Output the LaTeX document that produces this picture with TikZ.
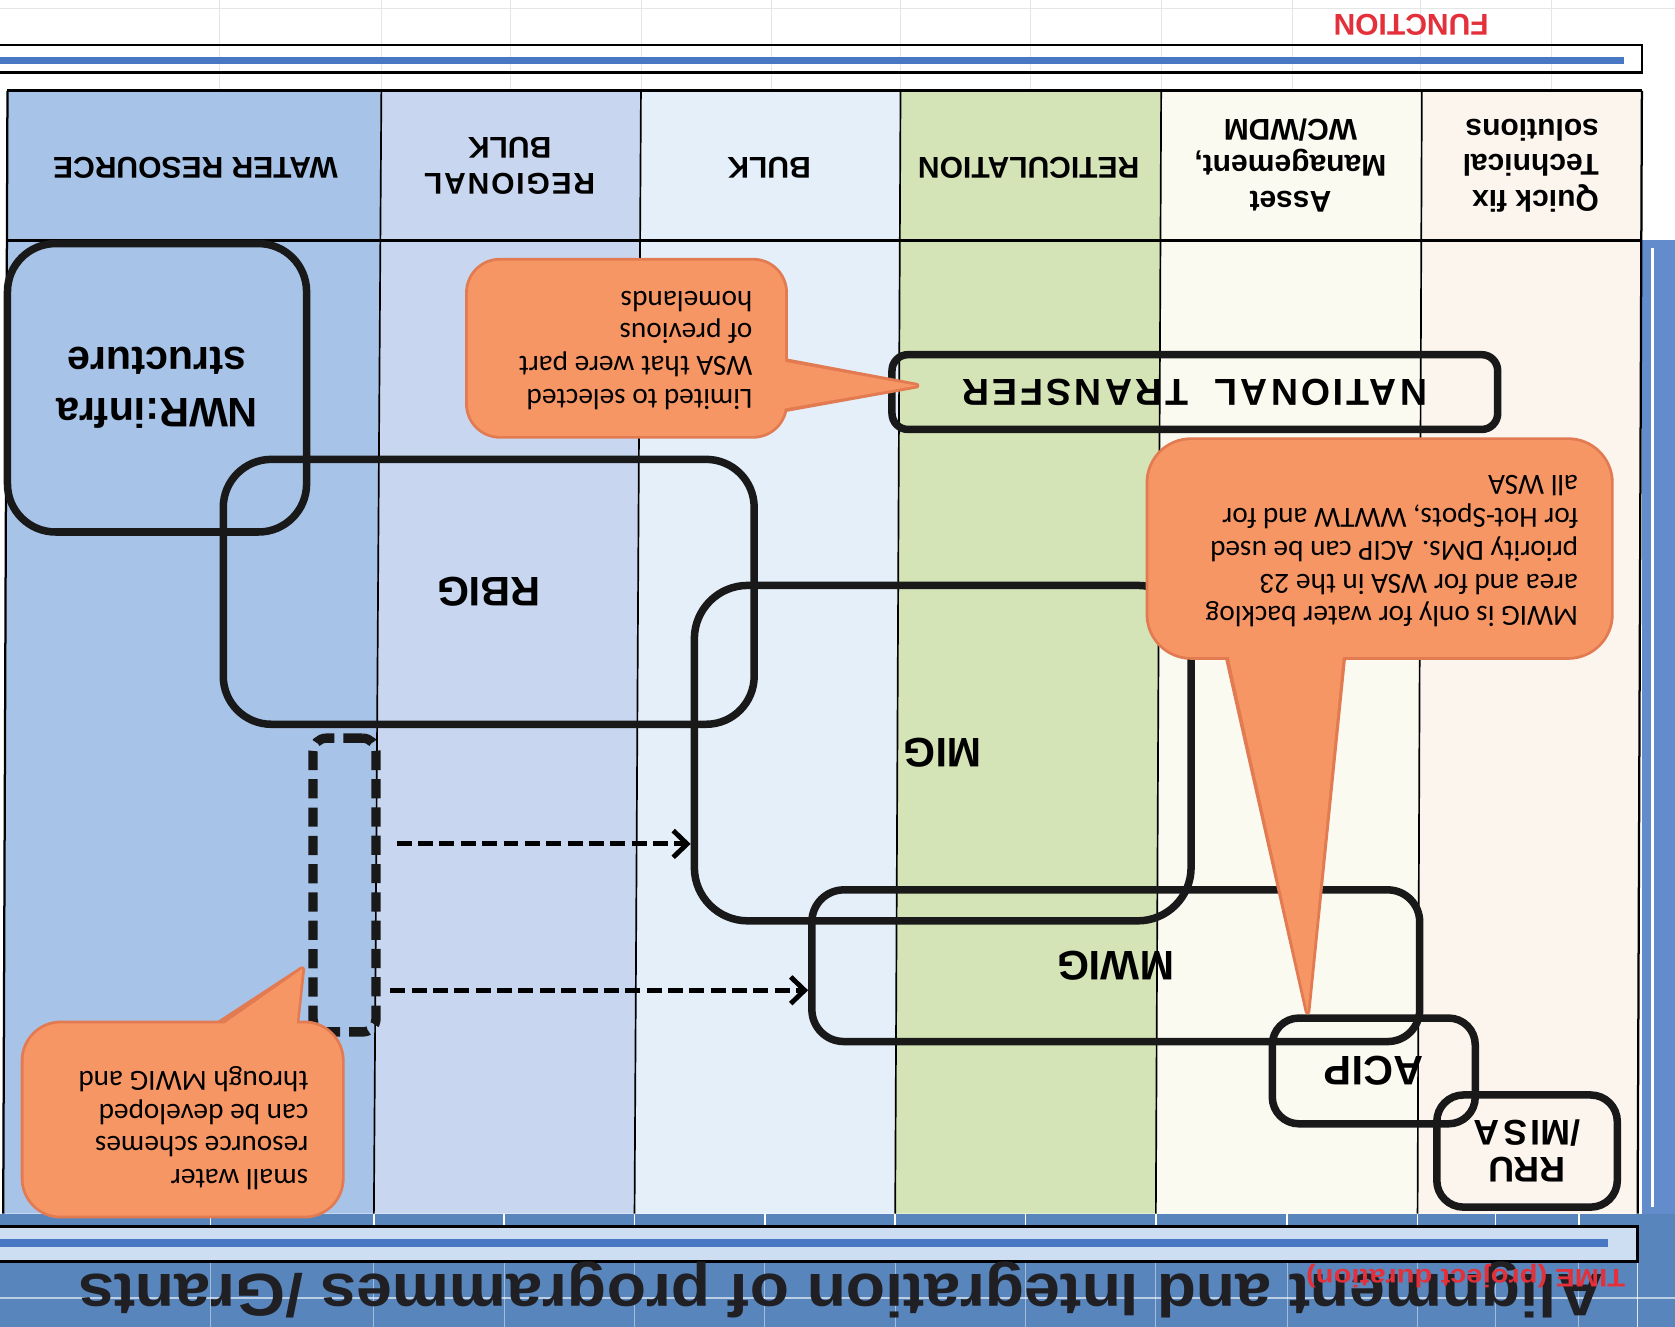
\documentclass[tikz,border=0pt]{standalone}
\usepackage{fontspec}
\setmainfont{Liberation Sans}
\newfontfamily\notefamily{Carlito}
\newfontfamily\widefamily[LetterSpace=8]{Liberation Sans}
\usetikzlibrary{arrows.meta,fit}

\definecolor{wrblue}{RGB}{168,195,232}
\definecolor{rbblue}{RGB}{201,214,240}
\definecolor{bkblue}{RGB}{229,239,250}
\definecolor{retgreen}{RGB}{213,228,182}
\definecolor{amcream}{RGB}{251,250,241}
\definecolor{qfcream}{RGB}{252,245,238}
\definecolor{barblue}{RGB}{72,120,196}
\definecolor{barpale}{RGB}{205,222,242}
\definecolor{seablue}{RGB}{88,134,188}
\definecolor{notefill}{RGB}{247,150,101}
\definecolor{noteedge}{RGB}{226,122,82}
\definecolor{labelred}{RGB}{228,48,58}
\definecolor{titlegray}{RGB}{32,32,36}

\tikzset{
  prog/.style={draw=black!90, line width=4pt, inner sep=0pt},
  lbl/.style={rotate=180, align=center, font=\bfseries\fontsize{22}{27}\selectfont},
  hdr/.style={rotate=180, align=center, font=\bfseries\fontsize{16}{19}\selectfont},
  note/.style={rotate=180, align=left, font=\notefamily\fontsize{15.6}{17.5}\selectfont},
  noterim/.style={draw=noteedge, line width=3pt, line join=round},
  notebody/.style={fill=notefill},
  dashlink/.style={line width=2.6pt, dash pattern=on 0.28cm off 0.12cm,
    -{Straight Barb[length=0.26cm,width=0.5cm,line width=2.6pt]}},
}

\begin{document}
\begin{tikzpicture}[x=0.02cm,y=-0.02cm]
\useasboundingbox (0,0) rectangle (1568,1242);
\clip (0,0) rectangle (1568,1242);
\fill[white] (0,0) rectangle (1568,1242);

% faint slide grid above the bar
\foreach \gx in {205,357,478,600,722,843,965,1087,1210,1330,1452}
  \draw[black!10, line width=0.4pt] (\gx,0) -- (\gx,85);
\draw[black!10, line width=0.4pt] (0,8) -- (1568,8);

% function bar
\fill[barblue] (0,53) rectangle (1520,60);
\draw[line width=1.4pt] (0,42) -- (1537,42) -- (1537,68) -- (0,68);
\node[rotate=180, text=labelred, font=\bfseries\fontsize{16}{16}\selectfont] (function) at (1321,23) {FUNCTION};

% columns
\fill[wrblue] (7,85) -- (357,85) -- (350,1136) -- (3,1136) -- cycle;
\fill[rbblue] (357,85) -- (600,85) -- (594,1136) -- (350,1136) -- cycle;
\fill[bkblue] (600,85) -- (843,85) -- (838,1136) -- (594,1136) -- cycle;
\fill[retgreen] (843,85) -- (1087,85) -- (1082,1136) -- (838,1136) -- cycle;
\fill[amcream] (1087,85) -- (1331,85) -- (1327,1136) -- (1082,1136) -- cycle;
\fill[qfcream] (1331,85) -- (1537,85) -- (1533,1136) -- (1327,1136) -- cycle;

% time axis at the bottom
\fill[seablue] (0,1136) rectangle (1568,1242);
\fill[barblue!85] (1537,225) rectangle (1568,1136);
\draw[white, line width=1.2pt] (1547,232) -- (1547,1130);
\foreach \gx in {197,350,472,594,716,838,960,1082,1205,1327,1400,1478} {
  \draw[white, line width=0.8pt] (\gx,1136) -- (\gx,1148);
  \draw[white, opacity=0.45, line width=0.6pt] (\gx,1181) -- (\gx,1242);
}
\draw[white, opacity=0.6, line width=0.8pt] (0,1215) -- (1568,1215);
\draw[white, opacity=0.8, line width=0.8pt] (1533,1181) -- (1533,1242);
\fill[barpale] (0,1148) rectangle (1533,1181);
\fill[barblue] (0,1160) rectangle (1505,1167);
\draw[line width=1.4pt] (0,1148) -- (1533,1148) -- (1533,1181) -- (0,1181);

% table frame
\draw[line width=1.6pt] (7,85) -- (1537,85);
\draw[line width=1.6pt] (7,225) -- (1537,225);
\draw[line width=1.2pt] (7,85) -- (3,1136);
\draw[line width=0.9pt] (357,85) -- (350,1136);
\draw[line width=0.9pt] (600,85) -- (594,1136);
\draw[line width=0.9pt] (843,85) -- (838,1136);
\draw[line width=0.9pt] (1087,85) -- (1082,1136);
\draw[line width=0.9pt] (1331,85) -- (1327,1136);
\draw[line width=1.2pt] (1537,85) -- (1533,1136);

% headers
\node[hdr] (hwater) at (183,157) {WATER RESOURCE};
\node[hdr] (hregional) at (477,155) {{\addfontfeature{LetterSpace=6}REGIONAL}\\BULK};
\node[hdr] (hbulk) at (720,157) {BULK};
\node[hdr] (hretic) at (963,157) {RETICULATION};
\node[hdr] (hasset) at (1208,155) {Asset\\Management,\\WC/WDM};
\node[hdr, align=left] (hquick) at (1433,155) {Quick fix\\Technical\\solutions};

% programmes
\node[prog, rounded corners=0.9cm, fit={(7,228) (287,498)}] (nwr) {};
\node[prog, rounded corners=0.9cm, fit={(209,430) (706,678)}] (rbig) {};
\node[prog, rounded corners=1.0cm, fit={(650,548) (1115,862)}] (mig) {};
\node[prog, rounded corners=0.6cm, fit={(760,833) (1329,975)}] (mwig) {};
\node[prog, rounded corners=0.5cm, fit={(1191,953) (1381,1052)}] (acip) {};
\node[prog, rounded corners=0.5cm, fit={(1345,1025) (1514,1130)}] (rru) {};
\node[prog, rounded corners=0.3cm, fit={(835,332) (1402,402)}] (ntransfer) {};
\node[draw=black!90, line width=5pt, inner sep=0pt, dash pattern=on 0.36cm off 0.17cm,
  rounded corners=0.25cm, fit={(293,691) (352,966)}] (swr) {};

\coordinate (upperlink) at (0,790);
\coordinate (lowerlink) at (0,927);
\draw[dashlink, shorten <=0.3cm] (swr.east |- upperlink) -- (mig.west |- upperlink);
\draw[dashlink, shorten <=0.18cm] (swr.east |- lowerlink) -- (mwig.west |- lowerlink);

% callouts
\draw[noterim, rounded corners=0.6cm] (438,244) rectangle (735,408);
\draw[noterim] (730,337) -- (858,361) -- (730,384);
\fill[notebody, rounded corners=0.6cm] (438,244) rectangle (735,408);
\fill[notebody] (725,337) -- (858,361) -- (725,384) -- cycle;

\draw[noterim, rounded corners=0.8cm] (1075,412) rectangle (1508,615);
\draw[noterim] (1148,610) -- (1224,947) -- (1258,610);
\fill[notebody, rounded corners=0.8cm] (1075,412) rectangle (1508,615);
\fill[notebody] (1148,605) -- (1224,947) -- (1258,605) -- cycle;

\draw[noterim, rounded corners=0.7cm] (22,958) rectangle (320,1138);
\draw[noterim] (199,962) -- (283,907) -- (277,962);
\fill[notebody, rounded corners=0.7cm] (22,958) rectangle (320,1138);
\fill[notebody] (199,966) -- (283,907) -- (277,966) -- cycle;

\node[note] (homelandnote) at (595,328) {Limited to selected\\WSA that were part\\of previous\\homelands};
\node[note] (mwignote) at (1303,516) {MWIG is only for water backlog\\area and for WSA in the 23\\priority DMs. ACIP can be used\\for Hot-Spots, WWTW and for\\all WSA};
\node[note] (schemenote) at (181,1056) {small water\\resource schemes\\can be developed\\through MWIG and};

% programme labels
\node[lbl] (nwrlbl) at (nwr.center) {NWR:infra\\structure};
\node[lbl] (rbiglbl) at (rbig.center) {RBIG};
\node[lbl] (miglbl) at (mig.center) {MIG};
\node[lbl] (mwiglbl) at (mwig.center) {MWIG};
\node[lbl] (aciplbl) at (acip.center) {ACIP};
\node[lbl, font=\bfseries\fontsize{19}{20}\selectfont] (rrulbl) at (rru.center) {RRU\\/M{\addfontfeature{LetterSpace=10}ISA}};
\node[lbl, font=\widefamily\bfseries\fontsize{20}{20}\selectfont] (ntlbl) at (ntransfer.center) {NATIONAL\ \ TRANSFER};

% title strip
\node[rotate=180, anchor=base, xscale=1.07, text=titlegray, font=\bfseries\fontsize{32}{32}\selectfont] (title) at (787,1193) {Alignment and Integration of programmes /Grants};
\node[rotate=180, anchor=base, xscale=1.15, text=labelred, font=\bfseries\fontsize{13.5}{13.5}\selectfont] (timelbl) at (1372,1188) {TIME (project duration)};
\end{tikzpicture}
\end{document}
